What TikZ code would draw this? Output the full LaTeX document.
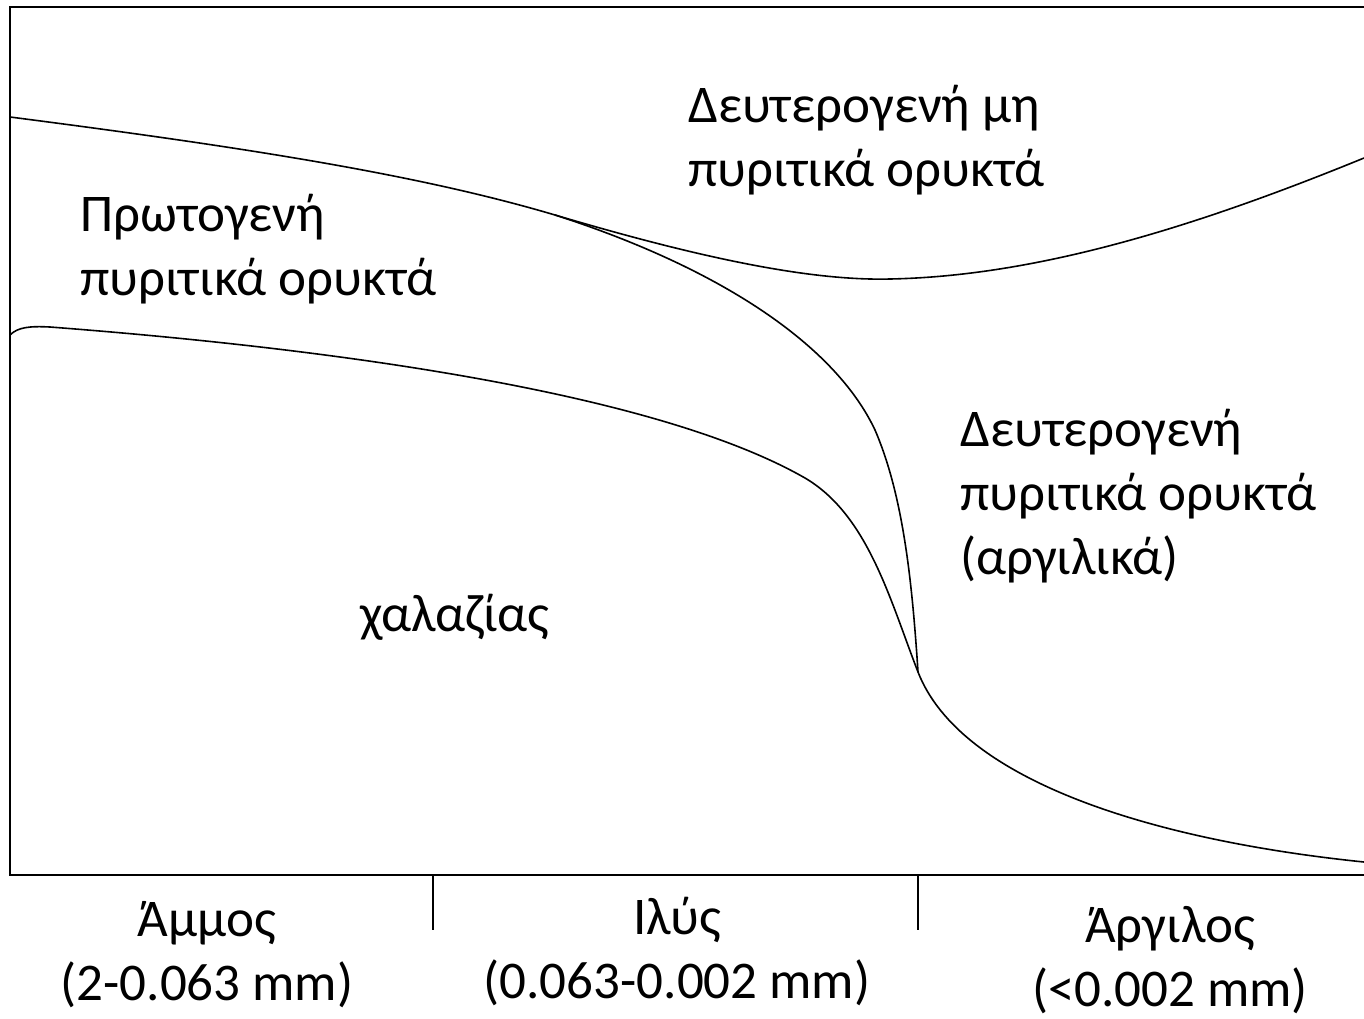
\documentclass[tikz,border=0pt]{standalone}
\usepackage{fontspec}
\setmainfont{Carlito}
\tikzset{
  lbl/.style={inner sep=0pt, font=\fontsize{53}{64}\selectfont},
  curve/.style={line width=1.6pt},
}
\begin{document}
\begin{tikzpicture}[x=1pt,y=-1pt]
\useasboundingbox (0,0) rectangle (1364,1018);

\coordinate (split) at (555,215);
\coordinate (meet) at (918,672);

\draw[line width=2pt] (1364,7) -- (10,7) -- (10,875) -- (1364,875);
\draw[line width=1.5pt] (433,875) -- (433,930)
		(918,875) -- (918,930);

\draw[curve] (10,117) .. controls (250,148) and (420,175) .. (split)
		.. controls (700,258) and (810,281) .. (890,279)
		.. controls (1040,276) and (1200,225) .. (1364,158);
\draw[curve] (split) .. controls (720,268) and (835,345) .. (875,430)
		.. controls (903,495) and (912,580) .. (meet);
\draw[curve] (10,335) .. controls (18,327) and (30,326) .. (50,327)
		.. controls (350,350) and (660,395) .. (805,478)
		.. controls (868,515) and (890,600) .. (meet)
		.. controls (960,780) and (1150,840) .. (1364,862);

\node[lbl, anchor=north west, align=left] (prim) at (80,194) {Πρωτογενή\\πυριτικά ορυκτά};
\node[lbl, anchor=north west, align=left] (secnon) at (688,85) {Δευτερογενή μη\\πυριτικά ορυκτά};
\node[lbl, anchor=north west, align=left] (secclay) at (960,409) {Δευτερογενή\\πυριτικά ορυκτά\\(αργιλικά)};
\node[lbl] (quartz) at (455,617) {χαλαζίας};

\node[lbl, anchor=north, align=center] (sand) at (207,901) {Άμμος\\(2-0.063 mm)};
\node[lbl, anchor=north, align=center] (silt) at (677,897) {Ιλύς\\(0.063-0.002 mm)};
\node[lbl, anchor=north, align=center] (clay) at (1170,906) {Άργιλος\\(<0.002 mm)};
\end{tikzpicture}
\end{document}
